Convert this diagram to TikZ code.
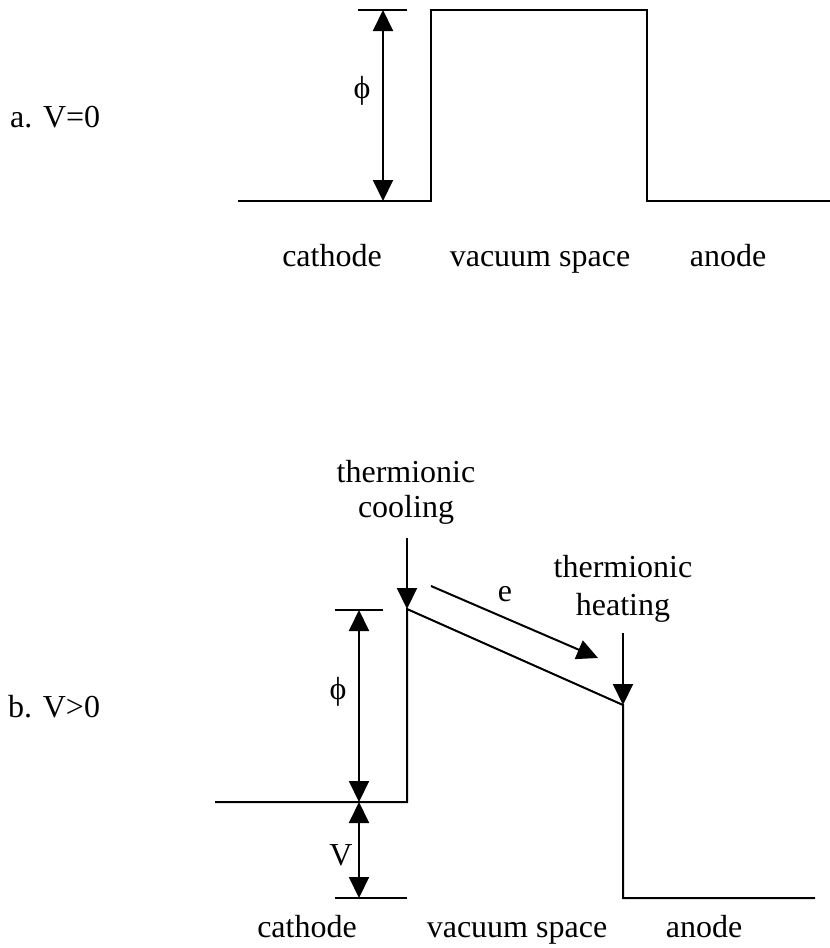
\documentclass[tikz,border=0pt]{standalone}
\usepackage{fontspec}
\setmainfont{Liberation Serif}
\usetikzlibrary{arrows.meta,positioning}

\begin{document}
\begin{tikzpicture}[
  x=1pt, y=-1pt, >={Triangle[length=21pt,width=20pt]},
  every node/.style={font=\fontsize{32}{36}\selectfont, inner sep=0pt},
  lbl/.style={anchor=base},
  level/.style={line width=2pt, line join=miter},
  dimarrow/.style={line width=2pt, <->},
  flow/.style={line width=2pt, ->}
]
  \useasboundingbox (0,0) rectangle (830,948);

  % a. V=0
  \node[anchor=base west] (capa) at (10,127) {a. V=0};
  \coordinate (a1) at (238,201);
  \coordinate (a2) at (431,201);
  \coordinate (a3) at (431,10);
  \coordinate (a4) at (647,10);
  \coordinate (a5) at (647,201);
  \coordinate (a6) at (830,201);
  \draw[level] (a1) -- (a2) -- (a3) -- (a4) -- (a5) -- (a6);

  \coordinate (atickl) at (358,10);
  \coordinate (atickr) at (407,10);
  \draw[level] (atickl) -- (atickr);
  \coordinate (aphitop) at (383,10);
  \coordinate (aphibot) at (383,201);
  \draw[dimarrow] (aphitop) -- (aphibot);
  \node (aphi) at (362,91) {ϕ};

  \node[lbl] (acath) at (332,266) {cathode};
  \node[lbl] (avac) at (540,266) {vacuum space};
  \node[lbl] (aano) at (728,266) {anode};

  % b. V>0
  \node[anchor=base west] (capb) at (8,717) {b. V>0};
  \coordinate (b1) at (215,802);
  \coordinate (b2) at (407,802);
  \coordinate (b3) at (407,609);
  \coordinate (b4) at (623,705);
  \coordinate (b5) at (623,898);
  \coordinate (b6) at (815,898);
  \draw[level] (b1) -- (b2) -- (b3) -- (b4) -- (b5) -- (b6);

  \coordinate (btickl) at (335,610);
  \coordinate (btickr) at (383,610);
  \draw[level] (btickl) -- (btickr);
  \coordinate (bbotl) at (335,898);
  \coordinate (bbotr) at (407,898);
  \draw[level] (bbotl) -- (bbotr);
  \coordinate (bphitop) at (359,610);
  \coordinate (bphibot) at (359,802);
  \coordinate (bvbot) at (359,898);
  \draw[dimarrow] (bphitop) -- (bphibot);
  \draw[dimarrow] (bphibot) -- (bvbot);
  \node (bphi) at (338,692) {ϕ};
  \node[lbl] (bv) at (341,865) {V};

  % electron and heat flows
  \node[lbl] (cool1) at (406,482) {thermionic};
  \node[lbl] (cool2) at (406,517) {cooling};
  \coordinate (coolstart) at (407,538);
  \draw[flow] (coolstart) -- (b3);

  \node[lbl] (heat1) at (623,577) {thermionic};
  \node[lbl] (heat2) at (623,615) {heating};
  \coordinate (heatstart) at (623,633);
  \draw[flow] (heatstart) -- (b4);

  \coordinate (estart) at (431,586);
  \coordinate (eend) at (598,658);
  \draw[flow] (estart) -- (eend);
  \node (elbl) at (505,594) {e};

  \node[lbl] (bcath) at (307,937) {cathode};
  \node[lbl] (bvac) at (517,937) {vacuum space};
  \node[lbl] (bano) at (704,937) {anode};
\end{tikzpicture}
\end{document}
